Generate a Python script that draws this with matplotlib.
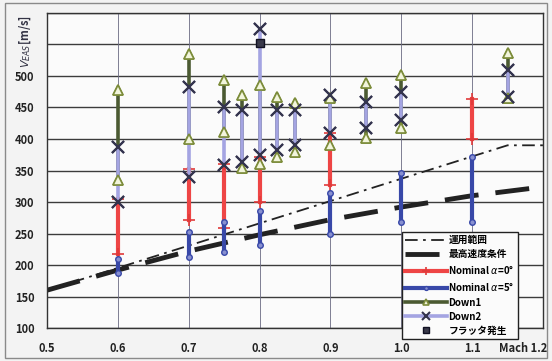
import numpy as np
import matplotlib
matplotlib.use("Agg")
import matplotlib.pyplot as plt
import matplotlib.transforms as mtransforms
from matplotlib.patches import Rectangle

plt.rcParams["font.family"] = ["Noto Sans CJK JP", "DejaVu Sans"]

# operating envelope and max-speed condition
ops_mach = [0.5, 1.15, 1.2]
ops_v = [160, 390, 390]
vmax_mach = [0.5, 0.6, 0.7, 0.8, 0.9, 1.0, 1.1, 1.2]
vmax_v = [160, 192, 222, 248, 272, 292, 310, 324]

# Nominal alpha=0
nom0_mach = [0.6, 0.7, 0.75, 0.8, 0.9, 1.1]
nom0_low = [218, 271, 259, 300, 327, 400]
nom0_high = [305, 352, 360, 372, 410, 463]

# Nominal alpha=5
nom5_mach = [0.6, 0.7, 0.75, 0.8, 0.9, 1.0, 1.1]
nom5_low = [188, 213, 221, 232, 250, 269, 269]
nom5_high = [210, 253, 268, 285, 314, 346, 372]

# Down1 / Down2
down_mach = [0.6, 0.7, 0.75, 0.775, 0.8, 0.825, 0.85, 0.9, 0.95, 1.0, 1.15]
down1_low = [335, 400, 411, 354, 361, 372, 380, 390, 401, 417, 465]
down1_high = [478, 535, 494, 470, 486, 467, 457, 465, 489, 502, 536]
down2_low = [300, 340, 358, 364, 374, 382, 390, 409, 417, 430, 467]
down2_high = [388, 482, 451, 446, 575, 446, 446, 470, 459, 475, 509]

# flutter onset
flutter_mach = [0.8]
flutter_v = [552]

x_ticks = [0.5, 0.6, 0.7, 0.8, 0.9, 1.0, 1.1, 1.2]
x_labels = ["0.5", "0.6", "0.7", "0.8", "0.9", "1.0", "1.1", "Mach 1.2"]
y_ticks = [100, 150, 200, 250, 300, 350, 400, 450, 500, 550, 600]
y_labels = ["100", "150", "200", "250", "300", "350", "400", "450", "500", "", ""]


def segments(mach, low, high):
    xs, ys = [], []
    for m, lo, hi in zip(mach, low, high):
        xs += [m, m, np.nan]
        ys += [lo, hi, np.nan]
    return xs, ys


fig = plt.figure(figsize=(5.52, 3.61), dpi=100, facecolor="#f3f3f3")
ax = fig.add_axes([0.0851, 0.0914, 0.8986, 0.8726], facecolor="#fbfbfb")

for v in y_ticks:
    ax.axhline(v, color="#3c3c3c", lw=1.0, zorder=1)
for m in x_ticks:
    ax.axvline(m, color="#6a6a82", lw=0.6, zorder=1)

h_ops, = ax.plot(ops_mach, ops_v, color="#222222", lw=1.3,
                 dashes=(7, 3, 1.5, 3), zorder=2.5, label="運用範囲")
h_vmax, = ax.plot(vmax_mach, vmax_v, color="#222222", lw=3.5,
                  dashes=(7, 3.5), zorder=2.5, label="最高速度条件")

x, y = segments(down_mach, down1_low, down1_high)
h_d1, = ax.plot(x, y, color="#4b5a32", lw=2.6, marker="^", ms=7,
                mfc="#f2f5dc", mec="#7c8c3a", mew=1.2, zorder=3, label="Down1")

x, y = segments(nom0_mach, nom0_low, nom0_high)
h_n0, = ax.plot(x, y, color="#ee4545", lw=3.0, marker="+", ms=8,
                mec="#e03a3a", mew=1.2, zorder=3.2, label=r"Nominal $\alpha$=0°")

x, y = segments(nom5_mach, nom5_low, nom5_high)
h_n5, = ax.plot(x, y, color="#3848a8", lw=3.0, marker="o", ms=4,
                mfc="#8890d0", mec="#3848a8", mew=1.0, zorder=3.3, label=r"Nominal $\alpha$=5°")

x, y = segments(down_mach, down2_low, down2_high)
h_d2, = ax.plot(x, y, color="#a4a4e2", lw=2.6, marker="x", ms=8,
                mec="#34344e", mew=1.5, zorder=4, label="Down2")

# triangles and crosses back on top of the Down2 line
x, y = segments(down_mach, down1_low, down1_high)
ax.plot(x, y, ls="none", marker="^", ms=7, mfc="#f2f5dc", mec="#7c8c3a", mew=1.2, zorder=4.5)
x, y = segments(down_mach, down2_low, down2_high)
ax.plot(x, y, ls="none", marker="x", ms=8, mec="#34344e", mew=1.5, zorder=4.6)

h_fl, = ax.plot(flutter_mach, flutter_v, ls="none", marker="s", ms=6,
                mfc="#3a3a4a", mec="#111122", zorder=5, label="フラッタ発生")

ax.set_xlim(0.5, 1.2)
ax.set_ylim(100, 600)
ax.set_xticks(x_ticks)
ax.set_xticklabels(x_labels)
ax.set_yticks(y_ticks)
ax.set_yticklabels(y_labels)
ax.tick_params(axis="both", length=0, labelsize=8, colors="#222222")
ax.tick_params(axis="x", pad=10)
ax.tick_params(axis="y", pad=9)
for lab in ax.get_xticklabels() + ax.get_yticklabels():
    lab.set_fontweight("bold")
last = ax.get_xticklabels()[-1]
last.set_ha("right")
last.set_transform(last.get_transform() + mtransforms.ScaledTranslation(4 / 100, 0, fig.dpi_scale_trans))
for sp in ax.spines.values():
    sp.set_color("#333333")
    sp.set_linewidth(1.0)

fig.text(0.045, 0.885, r"$V_{EAS}$[m/s]", rotation=90, ha="center", va="center",
         fontsize=8, fontweight="bold", color="#333344")

leg = ax.legend(handles=[h_ops, h_vmax, h_n0, h_n5, h_d1, h_d2, h_fl],
                loc="upper left", bbox_to_anchor=(0.719, 0.37), bbox_transform=fig.transFigure,
                handlelength=4.4, labelspacing=0.42, borderpad=0.3, markerscale=0.7,
                handletextpad=0.1, fancybox=False, framealpha=1, edgecolor="#222222",
                facecolor="#fbfbfb", prop={"weight": "bold", "size": 7})
leg.set_zorder(10)
leg.get_frame().set_linewidth(1.0)

fig.patches.append(Rectangle((0.009, 0.008), 0.982, 0.983, transform=fig.transFigure,
                             fill=False, edgecolor="#8a8a8a", lw=1.0))

fig.savefig("out.png", dpi=100, facecolor=fig.get_facecolor())
